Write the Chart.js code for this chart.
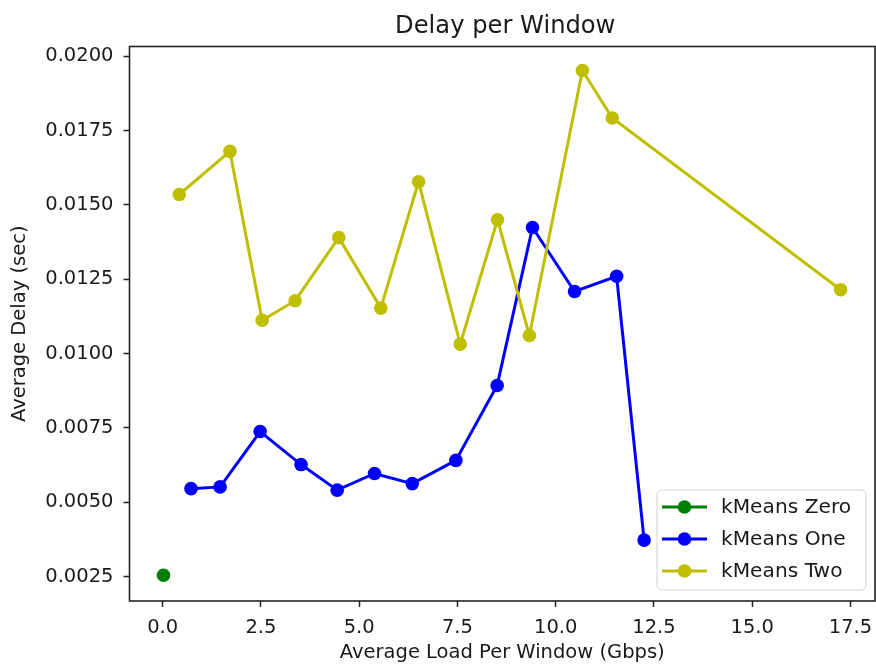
<!DOCTYPE html>
<html>
<head>
<meta charset="utf-8">
<script src="https://cdn.jsdelivr.net/npm/chart.js@4/dist/chart.umd.min.js"></script>
<style>
  html, body { margin: 0; padding: 0; background: #fff; }
  canvas { display: block; }
</style>
</head>
<body>
<canvas id="delayChart" width="876" height="668"></canvas>
<script>
// values
const seriesNames = ["kMeans Zero", "kMeans One", "kMeans Two"];
const seriesColors = ["#008000", "#0000ff", "#bfbf00"];

const loadZero = [0.02];
const delayZero = [0.00255];

const loadOne = [0.72, 1.46, 2.48, 3.52, 4.44, 5.39, 6.35, 7.46, 8.51, 9.41, 10.48, 11.55, 12.25];
const delayOne = [0.00546, 0.00552, 0.00738, 0.00627, 0.00541, 0.00597, 0.00563, 0.00641, 0.00893, 0.01424, 0.01209, 0.0126, 0.00373];

const loadTwo = [0.42, 1.71, 2.53, 3.37, 4.48, 5.55, 6.51, 7.57, 8.52, 9.33, 10.68, 11.44, 17.25];
const delayTwo = [0.01535, 0.0168, 0.01112, 0.01178, 0.0139, 0.01153, 0.01578, 0.01032, 0.0145, 0.01061, 0.01952, 0.01792, 0.01215];

const xTicks = [0, 2.5, 5, 7.5, 10, 12.5, 15, 17.5];
const yTicks = [0.0025, 0.005, 0.0075, 0.01, 0.0125, 0.015, 0.0175, 0.02];

const FONT = "'DejaVu Sans', sans-serif";
const TEXT = "#1a1a1a";
const SPINE = "#222";

function toPoints(xs, ys) {
  return xs.map((x, i) => ({ x: x, y: ys[i] }));
}

const allX = [loadZero, loadOne, loadTwo];
const allY = [delayZero, delayOne, delayTwo];

const datasets = seriesNames.map((name, i) => ({
  label: name,
  data: toPoints(allX[i], allY[i]),
  showLine: true,
  borderColor: seriesColors[i],
  backgroundColor: seriesColors[i],
  pointBackgroundColor: seriesColors[i],
  pointBorderColor: seriesColors[i],
  borderWidth: 3,
  pointRadius: 6.8,
  pointBorderWidth: 0,
  pointHoverRadius: 6.8,
  order: 2 - i
}));

const decorPlugin = {
  id: "decor",
  afterDraw(chart) {
    const ctx = chart.ctx;
    const a = chart.chartArea;
    ctx.save();

    // axes box
    ctx.strokeStyle = SPINE;
    ctx.lineWidth = 1.6;
    ctx.strokeRect(a.left, a.top, a.right - a.left, a.bottom - a.top);

    // legend
    const lx = a.right - 218, ly = a.bottom - 111, lw = 209, lh = 100;
    ctx.beginPath();
    ctx.roundRect(lx, ly, lw, lh, 5);
    ctx.fillStyle = "rgba(255,255,255,0.8)";
    ctx.fill();
    ctx.strokeStyle = "#d4d4d4";
    ctx.lineWidth = 1;
    ctx.stroke();

    ctx.font = "20.2px " + FONT;
    ctx.textBaseline = "middle";
    ctx.textAlign = "left";
    chart.data.datasets.forEach((ds, i) => {
      const y = ly + 17 + i * 32;
      ctx.strokeStyle = ds.borderColor;
      ctx.lineWidth = 3;
      ctx.beginPath();
      ctx.moveTo(lx + 5, y);
      ctx.lineTo(lx + 50, y);
      ctx.stroke();
      ctx.fillStyle = ds.borderColor;
      ctx.beginPath();
      ctx.arc(lx + 27.5, y, 6.8, 0, Math.PI * 2);
      ctx.fill();
      ctx.fillStyle = TEXT;
      ctx.fillText(ds.label, lx + 64, y + 1);
    });

    // title
    ctx.font = "24.2px " + FONT;
    ctx.fillStyle = TEXT;
    ctx.textAlign = "center";
    ctx.textBaseline = "alphabetic";
    ctx.fillText("Delay per Window", (a.left + a.right) / 2 + 3, 33);
    ctx.restore();
  }
};

function noEdgePadding(scale) {
  scale.paddingLeft = 0;
  scale.paddingRight = 0;
  scale.paddingTop = 0;
  scale.paddingBottom = 0;
}

new Chart(document.getElementById("delayChart").getContext("2d"), {
  type: "scatter",
  data: { datasets: datasets },
  options: {
    responsive: false,
    animation: false,
    events: [],
    layout: { autoPadding: false, padding: { top: 46.5, right: 1, left: 0, bottom: 0 } },
    plugins: {
      legend: { display: false },
      tooltip: { enabled: false },
      title: { display: false }
    },
    scales: {
      x: {
        type: "linear",
        min: -0.845,
        max: 18.125,
        afterBuildTicks: scale => { scale.ticks = xTicks.map(v => ({ value: v })); },
        afterFit: scale => { scale.height = 67; noEdgePadding(scale); },
        grid: { drawOnChartArea: false, drawTicks: true, tickLength: 6, tickColor: SPINE, tickWidth: 1.5 },
        border: { display: false },
        ticks: {
          autoSkip: false,
          maxRotation: 0,
          padding: 9,
          color: TEXT,
          font: { family: FONT, size: 19.5 },
          callback: v => Number(v).toFixed(1)
        },
        title: {
          display: true,
          text: "Average Load Per Window (Gbps)",
          color: TEXT,
          font: { family: FONT, size: 19.5 },
          padding: { top: 0, bottom: 3 }
        }
      },
      y: {
        type: "linear",
        min: 0.001683,
        max: 0.020326,
        afterBuildTicks: scale => { scale.ticks = yTicks.map(v => ({ value: v })); },
        afterFit: scale => { scale.width = 129.5; noEdgePadding(scale); },
        grid: { drawOnChartArea: false, drawTicks: true, tickLength: 6, tickColor: SPINE, tickWidth: 1.5 },
        border: { display: false },
        ticks: {
          autoSkip: false,
          padding: 10,
          color: TEXT,
          font: { family: FONT, size: 19.5 },
          callback: v => Number(v).toFixed(4)
        },
        title: {
          display: true,
          text: "Average Delay (sec)",
          color: TEXT,
          font: { family: FONT, size: 19.5 },
          padding: { top: 8.6, bottom: 0 }
        }
      }
    }
  },
  plugins: [decorPlugin]
});
</script>
</body>
</html>
